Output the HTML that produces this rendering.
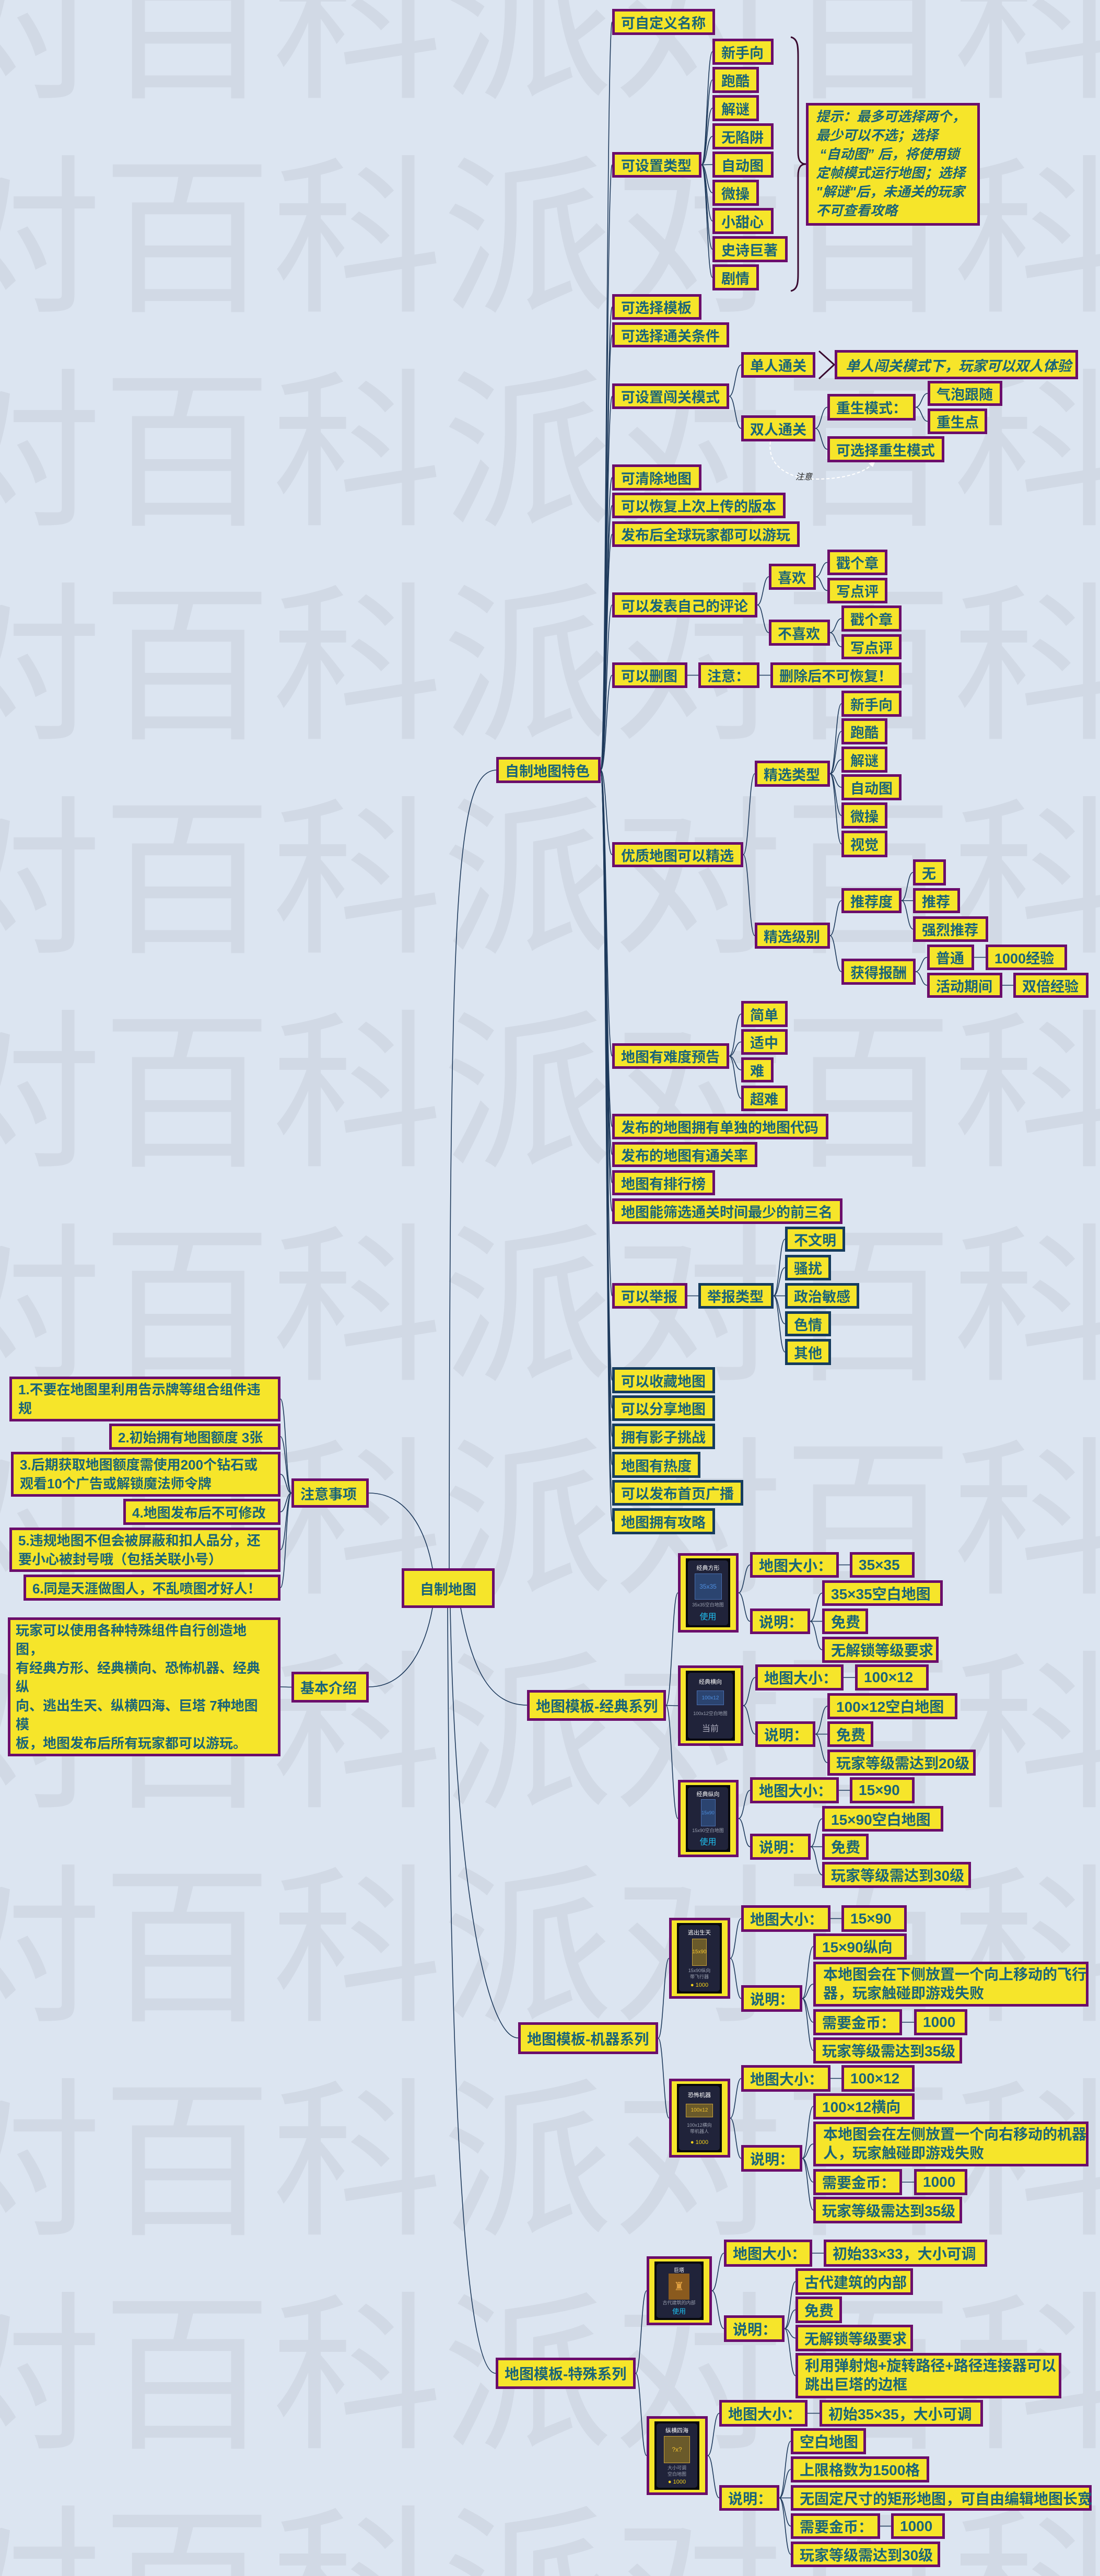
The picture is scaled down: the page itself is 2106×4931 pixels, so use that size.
<!DOCTYPE html>
<html><head><meta charset="utf-8">
<style>
html,body{margin:0;padding:0}
body{width:2106px;height:4931px;background:#dce5f1;position:relative;overflow:hidden;font-family:"Liberation Sans","Noto Sans CJK SC",sans-serif}
#wm{position:absolute;left:0;top:0;z-index:0}
#links{position:absolute;left:0;top:0;z-index:1}
.n{position:absolute;box-sizing:border-box;background:#f6e52a;border:5px solid #6b0e6b;color:#1b6579;font-weight:bold;font-size:27px;display:flex;align-items:center;padding-left:12px;white-space:nowrap;z-index:2;letter-spacing:0}
.v{border-color:#163c5e}
.t{font-size:28px}
.m{display:block;line-height:36px;padding-top:2px;white-space:nowrap}
.i{font-style:italic}
.c{justify-content:center;padding-left:0}
.img{position:absolute;box-sizing:border-box;border:5px solid #6b0e6b;background:#f6e52a;padding:5px 11px 5px 10px;z-index:2}
.blk{background:#08090c;height:100%;box-sizing:border-box;padding:4px}
.card{background:#20233a;border-radius:5px;height:100%;box-sizing:border-box;display:flex;flex-direction:column;align-items:center;justify-content:space-around;padding:4px 0;color:#fff;font-size:11px;font-family:"Liberation Sans","Noto Sans CJK SC",sans-serif}
.card .g{color:#9aa0b0;font-size:9px;text-align:center;line-height:12px}
.card .u{color:#1ec0f0;font-size:16px}
.card .y{color:#f5d21a;font-size:11px}
.sq{background:#2b4470;border:1px solid #4a6fb0;color:#4d8ee0;display:flex;align-items:center;justify-content:center;font-size:12px}
.gd{background:#6a5a2a;border:1px solid #c9a23a;color:#f0c030;display:flex;align-items:center;justify-content:center;font-size:10px}
</style></head><body>
<svg id="wm" width="2106" height="4931" xmlns="http://www.w3.org/2000/svg">
<g fill="#d1d9e5" font-family="Noto Sans CJK SC, sans-serif" font-size="326">
<text x="-457" y="162">派对百科派对百科派对</text>
<text x="-457" y="571">派对百科派对百科派对</text>
<text x="-457" y="980">派对百科派对百科派对</text>
<text x="-457" y="1389">派对百科派对百科派对</text>
<text x="-457" y="1798">派对百科派对百科派对</text>
<text x="-457" y="2207">派对百科派对百科派对</text>
<text x="-457" y="2616">派对百科派对百科派对</text>
<text x="-457" y="3025">派对百科派对百科派对</text>
<text x="-457" y="3434">派对百科派对百科派对</text>
<text x="-457" y="3843">派对百科派对百科派对</text>
<text x="-457" y="4252">派对百科派对百科派对</text>
<text x="-457" y="4661">派对百科派对百科派对</text>
<text x="-457" y="5070">派对百科派对百科派对</text>
</g></svg>
<svg id="links" width="2106" height="4931" xmlns="http://www.w3.org/2000/svg">
<g id="lg" fill="none" stroke="#1e3a5c" stroke-width="1.6">
<path d="M950,1474 C872,1478 861,1700 860,3002"/>
<path d="M706,2858 C780,2858 815,2930 828,3002"/>
<path d="M706,3229 C780,3229 815,3150 828,3078"/>
<path d="M882,3078 C905,3200 940,3264 1009,3264"/>
<path d="M862,3078 C872,3600 930,3901 992,3901"/>
<path d="M857,3078 C862,4200 900,4543 949,4543"/>
</g>
<path d="M1514,71 C1528,74 1528,90 1528,110 L1528,292 C1528,306 1532,314 1543,314 C1532,314 1528,322 1528,336 L1528,518 C1528,540 1528,554 1514,557" fill="none" stroke="#3a0a30" stroke-width="3"/>
<polyline points="1568,672 1597,698 1568,725" fill="none" stroke="#3a0a30" stroke-width="3"/>
<path d="M1475,845 C1468,895 1515,917 1562,917 C1615,917 1655,905 1670,888" fill="none" stroke="#ffffff" stroke-width="2" stroke-dasharray="6 4"/>
<polygon points="1676,882 1663,887 1671,894" fill="#ffffff"/>
<text x="1523" y="918" font-size="16" font-style="italic" fill="#222" font-family="Liberation Sans, Noto Sans CJK SC, sans-serif">注意</text>
</svg>

<!-- root and left -->
<div class="n c" id="r" style="left:769px;top:3002px;width:178px;height:76px">自制地图</div>
<div class="n" id="zy" style="left:558px;top:2830px;width:148px;height:56px">注意事项</div>
<div class="n" id="jb" style="left:558px;top:3200px;width:148px;height:59px">基本介绍</div>
<div class="n m" id="n1" style="left:18px;top:2635px;width:519px;height:86px;font-size:26px">1.不要在地图里利用告示牌等组合组件违<br>规</div>
<div class="n" id="n2" style="left:209px;top:2725px;width:328px;height:50px;font-size:26px">2.初始拥有地图额度 3张</div>
<div class="n m" id="n3" style="left:21px;top:2779px;width:516px;height:86px;font-size:26px">3.后期获取地图额度需使用200个钻石或<br>观看10个广告或解锁魔法师令牌</div>
<div class="n" id="n4" style="left:236px;top:2869px;width:301px;height:50px;font-size:26px">4.地图发布后不可修改</div>
<div class="n m" id="n5" style="left:18px;top:2924px;width:519px;height:85px;font-size:26px">5.违规地图不但会被屏蔽和扣人品分，还<br>要小心被封号哦（包括关联小号）</div>
<div class="n" id="n6" style="left:45px;top:3014px;width:492px;height:50px;font-size:26px">6.同是天涯做图人，不乱喷图才好人！</div>
<div class="n m" id="jbt" style="left:15px;top:3096px;width:522px;height:266px;font-size:26px;padding-left:10px">玩家可以使用各种特殊组件自行创造地<br>图，<br>有经典方形、经典横向、恐怖机器、经典<br>纵<br>向、逃出生天、纵横四海、巨塔 7种地图<br>模<br>板，地图发布后所有玩家都可以游玩。</div>

<!-- features -->
<div class="n" id="t" style="left:950px;top:1449px;width:200px;height:50px">自制地图特色</div>
<div class="n" id="c1" style="left:1172px;top:17px;width:197px;height:50px">可自定义名称</div>
<div class="n" id="c2" style="left:1172px;top:291px;width:171px;height:49px">可设置类型</div>
<div class="n" id="c3" style="left:1172px;top:563px;width:171px;height:49px">可选择模板</div>
<div class="n" id="c4" style="left:1172px;top:617px;width:224px;height:48px">可选择通关条件</div>
<div class="n" id="c5" style="left:1172px;top:734px;width:224px;height:49px">可设置闯关模式</div>
<div class="n" id="c6" style="left:1172px;top:889px;width:171px;height:50px">可清除地图</div>
<div class="n" id="c7" style="left:1172px;top:943px;width:332px;height:49px">可以恢复上次上传的版本</div>
<div class="n" id="c8" style="left:1172px;top:998px;width:359px;height:49px">发布后全球玩家都可以游玩</div>
<div class="n" id="c9" style="left:1172px;top:1134px;width:278px;height:48px">可以发表自己的评论</div>
<div class="n" id="c10" style="left:1172px;top:1268px;width:144px;height:49px">可以删图</div>
<div class="n" id="c11" style="left:1172px;top:1612px;width:251px;height:48px">优质地图可以精选</div>
<div class="n" id="c12" style="left:1172px;top:1997px;width:224px;height:49px">地图有难度预告</div>
<div class="n" id="c13" style="left:1172px;top:2132px;width:414px;height:49px">发布的地图拥有单独的地图代码</div>
<div class="n" id="c14" style="left:1172px;top:2186px;width:278px;height:48px">发布的地图有通关率</div>
<div class="n" id="c15" style="left:1172px;top:2240px;width:197px;height:48px">地图有排行榜</div>
<div class="n" id="c16" style="left:1172px;top:2294px;width:441px;height:49px">地图能筛选通关时间最少的前三名</div>
<div class="n" id="c17" style="left:1172px;top:2456px;width:144px;height:49px">可以举报</div>
<div class="n v" id="c18" style="left:1172px;top:2617px;width:197px;height:50px">可以收藏地图</div>
<div class="n v" id="c19" style="left:1172px;top:2671px;width:197px;height:49px">可以分享地图</div>
<div class="n v" id="c20" style="left:1172px;top:2725px;width:197px;height:49px">拥有影子挑战</div>
<div class="n v" id="c21" style="left:1172px;top:2779px;width:169px;height:50px">地图有热度</div>
<div class="n v" id="c22" style="left:1172px;top:2833px;width:251px;height:49px">可以发布首页广播</div>
<div class="n v" id="c23" style="left:1172px;top:2887px;width:197px;height:50px">地图拥有攻略</div>

<div class="n" id="ty1" style="left:1364px;top:74px;width:117px;height:50px">新手向</div>
<div class="n" id="ty2" style="left:1364px;top:128px;width:89px;height:50px">跑酷</div>
<div class="n" id="ty3" style="left:1364px;top:182px;width:89px;height:50px">解谜</div>
<div class="n" id="ty4" style="left:1364px;top:236px;width:117px;height:50px">无陷阱</div>
<div class="n" id="ty5" style="left:1364px;top:290px;width:117px;height:50px">自动图</div>
<div class="n" id="ty6" style="left:1364px;top:344px;width:89px;height:50px">微操</div>
<div class="n" id="ty7" style="left:1364px;top:398px;width:117px;height:50px">小甜心</div>
<div class="n" id="ty8" style="left:1364px;top:452px;width:144px;height:50px">史诗巨著</div>
<div class="n" id="ty9" style="left:1364px;top:506px;width:89px;height:50px">剧情</div>
<div class="n m i" style="left:1543px;top:197px;width:333px;height:235px;font-size:26px;padding-left:14px;padding-top:3px">提示：最多可选择两个，<br>最少可以不选；选择<br>&nbsp;“自动图” 后，将使用锁<br>定帧模式运行地图；选择<br>"解谜"后，未通关的玩家<br>不可查看攻略</div>

<div class="n" id="d1" style="left:1419px;top:674px;width:142px;height:49px">单人通关</div>
<div class="n i" style="left:1598px;top:670px;width:466px;height:56px;font-size:27px;padding-left:16px">单人闯关模式下，玩家可以双人体验</div>
<div class="n" id="d2" style="left:1419px;top:795px;width:142px;height:50px">双人通关</div>
<div class="n" id="d3" style="left:1584px;top:754px;width:169px;height:51px">重生模式：</div>
<div class="n" id="d4" style="left:1776px;top:729px;width:143px;height:48px">气泡跟随</div>
<div class="n" id="d5" style="left:1776px;top:782px;width:114px;height:49px">重生点</div>
<div class="n" id="d6" style="left:1584px;top:835px;width:224px;height:50px">可选择重生模式</div>

<div class="n" id="e1" style="left:1472px;top:1079px;width:90px;height:50px">喜欢</div>
<div class="n" id="e2" style="left:1584px;top:1052px;width:115px;height:49px">戳个章</div>
<div class="n" id="e3" style="left:1584px;top:1106px;width:115px;height:49px">写点评</div>
<div class="n" id="e4" style="left:1472px;top:1186px;width:117px;height:50px">不喜欢</div>
<div class="n" id="e5" style="left:1611px;top:1159px;width:115px;height:50px">戳个章</div>
<div class="n" id="e6" style="left:1611px;top:1214px;width:115px;height:48px">写点评</div>

<div class="n" id="f1" style="left:1337px;top:1268px;width:117px;height:49px">注意：</div>
<div class="n" id="f2" style="left:1475px;top:1268px;width:251px;height:49px">删除后不可恢复！</div>

<div class="n" id="g1" style="left:1445px;top:1456px;width:144px;height:50px">精选类型</div>
<div class="n" id="g2" style="left:1611px;top:1322px;width:115px;height:50px">新手向</div>
<div class="n" id="g3" style="left:1611px;top:1375px;width:88px;height:50px">跑酷</div>
<div class="n" id="g4" style="left:1611px;top:1429px;width:88px;height:50px">解谜</div>
<div class="n" id="g5" style="left:1611px;top:1482px;width:115px;height:50px">自动图</div>
<div class="n" id="g6" style="left:1611px;top:1536px;width:88px;height:50px">微操</div>
<div class="n" id="g7" style="left:1611px;top:1590px;width:88px;height:51px">视觉</div>
<div class="n" id="g8" style="left:1445px;top:1766px;width:144px;height:50px">精选级别</div>
<div class="n" id="h1" style="left:1611px;top:1700px;width:115px;height:48px">推荐度</div>
<div class="n" id="h2" style="left:1748px;top:1645px;width:63px;height:50px">无</div>
<div class="n" id="h3" style="left:1748px;top:1700px;width:90px;height:48px">推荐</div>
<div class="n" id="h4" style="left:1748px;top:1754px;width:144px;height:49px">强烈推荐</div>
<div class="n" id="h5" style="left:1611px;top:1835px;width:142px;height:50px">获得报酬</div>
<div class="n" id="h6" style="left:1775px;top:1808px;width:90px;height:49px">普通</div>
<div class="n" id="h7" style="left:1887px;top:1808px;width:156px;height:49px">1000经验</div>
<div class="n" id="h8" style="left:1775px;top:1862px;width:144px;height:48px">活动期间</div>
<div class="n" id="h9" style="left:1940px;top:1862px;width:144px;height:48px">双倍经验</div>

<div class="n" id="k1" style="left:1419px;top:1916px;width:89px;height:50px">简单</div>
<div class="n" id="k2" style="left:1419px;top:1970px;width:89px;height:49px">适中</div>
<div class="n" id="k3" style="left:1419px;top:2024px;width:62px;height:48px">难</div>
<div class="n" id="k4" style="left:1419px;top:2078px;width:89px;height:49px">超难</div>

<div class="n v" id="m1" style="left:1337px;top:2456px;width:144px;height:49px">举报类型</div>
<div class="n v" id="m2" style="left:1503px;top:2348px;width:115px;height:48px">不文明</div>
<div class="n v" id="m3" style="left:1503px;top:2402px;width:88px;height:49px">骚扰</div>
<div class="n v" id="m4" style="left:1503px;top:2456px;width:142px;height:49px">政治敏感</div>
<div class="n v" id="m5" style="left:1503px;top:2510px;width:88px;height:48px">色情</div>
<div class="n v" id="m6" style="left:1503px;top:2563px;width:88px;height:50px">其他</div>

<!-- classic series -->
<div class="n t" id="s1" style="left:1009px;top:3235px;width:266px;height:59px">地图模板-经典系列</div>
<div class="img" id="i1" style="left:1298px;top:2973px;width:116px;height:152px"><div class="blk"><div class="card"><div>经典方形</div><div class="sq" style="width:50px;height:48px">35x35</div><div class="g">35x35空白地图</div><div class="u">使用</div></div></div></div>
<div class="n t" id="p1" style="left:1436px;top:2971px;width:170px;height:49px">地图大小：</div>
<div class="n t" id="p2" style="left:1627px;top:2971px;width:124px;height:49px">35×35</div>
<div class="n t" id="p4" style="left:1574px;top:3025px;width:231px;height:49px">35×35空白地图</div>
<div class="n t" id="p3" style="left:1436px;top:3079px;width:115px;height:49px">说明：</div>
<div class="n t" id="p5" style="left:1574px;top:3079px;width:88px;height:49px">免费</div>
<div class="n t" id="p6" style="left:1574px;top:3133px;width:223px;height:50px">无解锁等级要求</div>

<div class="img" id="i2" style="left:1298px;top:3188px;width:125px;height:154px"><div class="blk"><div class="card"><div>经典横向</div><div class="sq" style="width:50px;height:26px;font-size:10px">100x12</div><div class="g">100x12空白地图</div><div class="u" style="color:#aab">当前</div></div></div></div>
<div class="n t" id="q1" style="left:1446px;top:3186px;width:169px;height:50px">地图大小：</div>
<div class="n t" id="q2" style="left:1637px;top:3186px;width:141px;height:50px">100×12</div>
<div class="n t" id="q4" style="left:1584px;top:3241px;width:249px;height:50px">100×12空白地图</div>
<div class="n t" id="q3" style="left:1446px;top:3295px;width:115px;height:49px">说明：</div>
<div class="n t" id="q5" style="left:1584px;top:3295px;width:88px;height:49px">免费</div>
<div class="n t" id="q6" style="left:1584px;top:3349px;width:284px;height:50px">玩家等级需达到20级</div>

<div class="img" id="i3" style="left:1298px;top:3407px;width:116px;height:148px"><div class="blk"><div class="card"><div>经典纵向</div><div class="sq" style="width:26px;height:50px;font-size:9px">15x90</div><div class="g">15x90空白地图</div><div class="u">使用</div></div></div></div>
<div class="n t" id="u1" style="left:1436px;top:3402px;width:170px;height:50px">地图大小：</div>
<div class="n t" id="u2" style="left:1627px;top:3402px;width:124px;height:50px">15×90</div>
<div class="n t" id="u4" style="left:1574px;top:3457px;width:232px;height:49px">15×90空白地图</div>
<div class="n t" id="u3" style="left:1436px;top:3510px;width:116px;height:50px">说明：</div>
<div class="n t" id="u5" style="left:1574px;top:3510px;width:89px;height:50px">免费</div>
<div class="n t" id="u6" style="left:1574px;top:3564px;width:285px;height:50px">玩家等级需达到30级</div>

<!-- machine series -->
<div class="n t" id="s2" style="left:992px;top:3871px;width:268px;height:61px">地图模板-机器系列</div>
<div class="img" id="j1" style="left:1281px;top:3671px;width:117px;height:155px"><div class="blk"><div class="card"><div>逃出生天</div><div class="gd" style="width:26px;height:50px">15x90</div><div class="g">15x90纵向<br>带飞行器</div><div class="y">● 1000</div></div></div></div>
<div class="n t" id="v1" style="left:1419px;top:3647px;width:171px;height:51px">地图大小：</div>
<div class="n t" id="v2" style="left:1611px;top:3647px;width:125px;height:51px">15×90</div>
<div class="n t" id="v3" style="left:1557px;top:3701px;width:179px;height:50px">15×90纵向</div>
<div class="n t m" id="v5" style="left:1557px;top:3755px;width:527px;height:86px;padding-left:14px">本地图会在下侧放置一个向上移动的飞行<br>器，玩家触碰即游戏失败</div>
<div class="n t" id="v4" style="left:1419px;top:3800px;width:117px;height:51px">说明：</div>
<div class="n t" id="v6" style="left:1557px;top:3846px;width:170px;height:50px">需要金币：</div>
<div class="n t" id="v7" style="left:1750px;top:3846px;width:102px;height:50px">1000</div>
<div class="n t" id="v8" style="left:1557px;top:3900px;width:285px;height:50px">玩家等级需达到35级</div>

<div class="img" id="j2" style="left:1281px;top:3979px;width:117px;height:151px"><div class="blk"><div class="card"><div>恐怖机器</div><div class="gd" style="width:50px;height:24px">100x12</div><div class="g">100x12横向<br>带机器人</div><div class="y">● 1000</div></div></div></div>
<div class="n t" id="w1" style="left:1419px;top:3953px;width:171px;height:51px">地图大小：</div>
<div class="n t" id="w2" style="left:1611px;top:3953px;width:140px;height:51px">100×12</div>
<div class="n t" id="w3" style="left:1557px;top:4007px;width:194px;height:50px">100×12横向</div>
<div class="n t m" id="w5" style="left:1557px;top:4061px;width:527px;height:86px;padding-left:14px">本地图会在左侧放置一个向右移动的机器<br>人，玩家触碰即游戏失败</div>
<div class="n t" id="w4" style="left:1419px;top:4106px;width:117px;height:51px">说明：</div>
<div class="n t" id="w6" style="left:1557px;top:4152px;width:170px;height:50px">需要金币：</div>
<div class="n t" id="w7" style="left:1750px;top:4152px;width:102px;height:50px">1000</div>
<div class="n t" id="w8" style="left:1557px;top:4205px;width:285px;height:51px">玩家等级需达到35级</div>

<!-- special series -->
<div class="n t" id="s3" style="left:949px;top:4513px;width:268px;height:60px">地图模板-特殊系列</div>
<div class="img" id="o1" style="left:1238px;top:4319px;width:125px;height:132px"><div class="blk"><div class="card"><div style="font-size:10px">巨塔</div><div style="width:40px;height:52px;background:#8a5a1e;display:flex;align-items:center;justify-content:center;color:#e0a040;font-size:22px">♜</div><div class="g">古代建筑的内部</div><div class="u" style="font-size:13px">使用</div></div></div></div>
<div class="n t" id="x1" style="left:1386px;top:4287px;width:169px;height:52px">地图大小：</div>
<div class="n t" id="x2" style="left:1577px;top:4287px;width:313px;height:52px">初始33×33，大小可调</div>
<div class="n t" id="x4" style="left:1523px;top:4342px;width:225px;height:51px">古代建筑的内部</div>
<div class="n t" id="x5" style="left:1523px;top:4396px;width:89px;height:51px">免费</div>
<div class="n t" id="x3" style="left:1386px;top:4432px;width:116px;height:51px">说明：</div>
<div class="n t" id="x6" style="left:1523px;top:4450px;width:225px;height:51px">无解锁等级要求</div>
<div class="n t m" id="x7" style="left:1523px;top:4504px;width:509px;height:87px;padding-left:13px">利用弹射炮+旋转路径+路径连接器可以<br>跳出巨塔的边框</div>

<div class="img" id="o2" style="left:1238px;top:4625px;width:117px;height:151px"><div class="blk"><div class="card"><div>纵横四海</div><div class="gd" style="width:48px;height:50px;font-size:12px">?x?</div><div class="g">大小可调<br>空白地图</div><div class="y">● 1000</div></div></div></div>
<div class="n t" id="y1" style="left:1377px;top:4594px;width:169px;height:51px">地图大小：</div>
<div class="n t" id="y2" style="left:1569px;top:4594px;width:313px;height:51px">初始35×35，大小可调</div>
<div class="n t" id="y4" style="left:1514px;top:4648px;width:144px;height:50px">空白地图</div>
<div class="n t" id="y5" style="left:1514px;top:4702px;width:265px;height:50px">上限格数为1500格</div>
<div class="n t" id="y3" style="left:1377px;top:4757px;width:115px;height:49px">说明：</div>
<div class="n t" id="y6" style="left:1514px;top:4757px;width:576px;height:49px">无固定尺寸的矩形地图，可自由编辑地图长宽</div>
<div class="n t" id="y7" style="left:1514px;top:4811px;width:171px;height:49px">需要金币：</div>
<div class="n t" id="y8" style="left:1706px;top:4811px;width:103px;height:49px">1000</div>
<div class="n t" id="y9" style="left:1514px;top:4865px;width:286px;height:49px">玩家等级需达到30级</div>

<script>
(function(){
function R(id){var e=document.getElementById(id);var l=parseFloat(e.style.left),t=parseFloat(e.style.top),w=parseFloat(e.style.width),h=parseFloat(e.style.height);return {l:l,t:t,r:l+w,cy:t+h/2};}
var g=document.getElementById('lg');var NS='http://www.w3.org/2000/svg';
function P(x1,y1,x2,y2){var d=(x2-x1)/2;var p=document.createElementNS(NS,'path');p.setAttribute('d','M'+x1+','+y1+' C'+(x1+d)+','+y1+' '+(x1+d)+','+y2+' '+x2+','+y2);g.appendChild(p);}
function L(a,list){var A=R(a);list.forEach(function(b){var B=R(b);P(A.r,A.cy,B.l,B.cy);});}
function LL(a,list){var A=R(a);list.forEach(function(b){var B=R(b);P(B.r,B.cy,A.l,A.cy);});}
var c=[];for(var i=1;i<=23;i++)c.push('c'+i);L('t',c);
var ty=[];for(i=1;i<=9;i++)ty.push('ty'+i);L('c2',ty);
L('c5',['d1','d2']);L('d2',['d3','d6']);L('d3',['d4','d5']);
L('c9',['e1','e4']);L('e1',['e2','e3']);L('e4',['e5','e6']);
L('c10',['f1']);L('f1',['f2']);
L('c11',['g1','g8']);L('g1',['g2','g3','g4','g5','g6','g7']);L('g8',['h1','h5']);
L('h1',['h2','h3','h4']);L('h5',['h6','h8']);L('h6',['h7']);L('h8',['h9']);
L('c12',['k1','k2','k3','k4']);
L('c17',['m1']);L('m1',['m2','m3','m4','m5','m6']);
LL('zy',['n1','n2','n3','n4','n5','n6']);LL('jb',['jbt']);
L('s1',['i1','i2','i3']);
L('i1',['p1','p3']);L('p1',['p2']);L('p3',['p4','p5','p6']);
L('i2',['q1','q3']);L('q1',['q2']);L('q3',['q4','q5','q6']);
L('i3',['u1','u3']);L('u1',['u2']);L('u3',['u4','u5','u6']);
L('s2',['j1','j2']);
L('j1',['v1','v4']);L('v1',['v2']);L('v4',['v3','v5','v6','v8']);L('v6',['v7']);
L('j2',['w1','w4']);L('w1',['w2']);L('w4',['w3','w5','w6','w8']);L('w6',['w7']);
L('s3',['o1','o2']);
L('o1',['x1','x3']);L('x1',['x2']);L('x3',['x4','x5','x6','x7']);
L('o2',['y1','y3']);L('y1',['y2']);L('y3',['y4','y5','y6','y7','y9']);L('y7',['y8']);
})();
</script>
</body></html>
